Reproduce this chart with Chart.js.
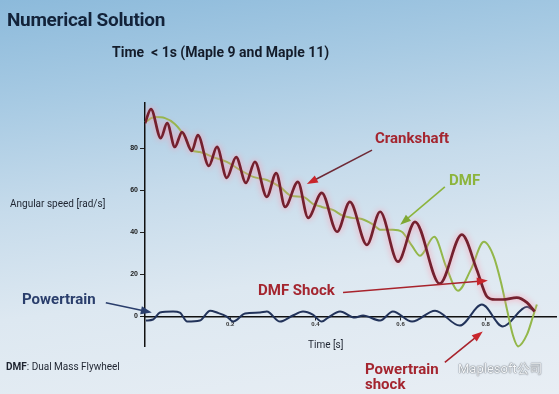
<!DOCTYPE html>
<html>
<head>
<meta charset="utf-8">
<script src="https://cdn.jsdelivr.net/npm/chart.js@4.4.1/dist/chart.umd.min.js"></script>
<style>
  html, body { margin: 0; padding: 0; }
  body {
    width: 559px; height: 394px; overflow: hidden; position: relative;
    background: linear-gradient(172deg, #8cbadb 0%, #a7cae3 22%, #c6dbeb 45%, #dde8f1 68%, #e8eef4 100%);
    font-family: Roboto, "DejaVu Sans", sans-serif;
  }
  #chart { position: absolute; left: 0; top: 0; }
  .txt { position: absolute; white-space: nowrap; line-height: 1; }
  .red { color: #a4252f; font-weight: bold; font-size: 15px; }
</style>
</head>
<body>
<canvas id="chart" width="559" height="394"></canvas>

<div class="txt" style="left:7px;top:10px;font-size:19px;font-weight:bold;color:#13233a;letter-spacing:-0.3px">Numerical Solution</div>
<div class="txt" style="left:112px;top:45px;font-size:14px;font-weight:bold;color:#141c2a">Time&nbsp; &lt; 1s (Maple 9 and Maple 11)</div>
<div class="txt" style="left:10px;top:199px;font-size:10px;color:#1e2430">Angular speed [rad/s]</div>
<div class="txt red" style="left:375px;top:131px">Crankshaft</div>
<div class="txt" style="left:449px;top:173px;font-size:15px;font-weight:bold;color:#8cb43c">DMF</div>
<div class="txt red" style="left:258px;top:283px">DMF Shock</div>
<div class="txt" style="left:22px;top:292px;font-size:15px;font-weight:bold;color:#2a3e6c">Powertrain</div>
<div class="txt" style="left:6px;top:362px;font-size:10px;color:#1e2430"><b>DMF</b>: Dual Mass Flywheel</div>
<div class="txt" style="left:308px;top:340px;font-size:10px;color:#1e2430">Time [s]</div>
<div class="txt red" style="left:365px;top:362px">Powertrain</div>
<div class="txt red" style="left:365px;top:377px">shock</div>
<div class="txt" style="left:458px;top:362px;font-size:13px;color:#f4f6f8;text-shadow:0 0 1.5px #5e666e, 0 0 1px #5e666e">Maplesoft公司</div>

<script>
// Crankshaft angular speed (rad/s) vs time (s)
var crankTime = [0, 0.014, 0.037, 0.052, 0.070, 0.087, 0.110, 0.124, 0.150, 0.169,
  0.192, 0.214, 0.237, 0.258, 0.286, 0.308, 0.329, 0.359, 0.383, 0.415,
  0.451, 0.481, 0.521, 0.552, 0.594, 0.634, 0.692, 0.744, 0.779, 0.803,
  0.822, 0.840, 0.873, 0.897, 0.915];
var crankSpeed = [91.9, 98.6, 84.8, 91.9, 80.6, 87.7, 78.7, 86.3, 71.6, 80.6,
  65.9, 75.8, 63.5, 73.5, 56.9, 68.2, 52.1, 64.0, 46.9, 58.8,
  40.3, 54.5, 34.1, 49.8, 26.1, 45.0, 15.6, 38.9, 22.3, 9.5,
  8.1, 8.1, 9.0, 6.6, 2.4];

// DMF (dual mass flywheel)
var dmfTime = [0, 0.023, 0.047, 0.070, 0.094, 0.110, 0.129, 0.160, 0.192, 0.223,
  0.254, 0.286, 0.317, 0.345, 0.371, 0.394, 0.415, 0.441, 0.465, 0.486,
  0.509, 0.533, 0.554, 0.582, 0.603, 0.627, 0.646, 0.679, 0.707, 0.735,
  0.765, 0.796, 0.819, 0.836, 0.850, 0.864, 0.876, 0.897, 0.911, 0.920];
var dmfSpeed = [92.4, 94.8, 94.3, 91.5, 85.3, 79.1, 78.2, 75.8, 73.5, 69.7,
  66.4, 64.9, 61.6, 57.3, 56.9, 53.6, 52.1, 50.7, 47.9, 46.9,
  46.4, 44.1, 41.2, 41.2, 40.3, 33.6, 28.9, 37.9, 23.7, 12.3,
  22.3, 35.5, 28.4, 16.1, 3.3, -9.0, -14.2, -8.5, 0.0, 5.7];

// Powertrain
var ptTime = [0.002, 0.019, 0.035, 0.066, 0.082, 0.099, 0.129, 0.153, 0.169, 0.192,
  0.207, 0.235, 0.270, 0.286, 0.317, 0.347, 0.371, 0.394, 0.415, 0.430,
  0.458, 0.493, 0.512, 0.552, 0.582, 0.627, 0.681, 0.739, 0.791, 0.840,
  0.897, 0.915];
var ptSpeed = [-1.9, -1.4, 1.9, 2.4, 1.9, -2.4, -1.9, 2.8, 1.9, 0.0,
  -2.4, 1.4, 1.9, 2.4, -2.4, 0.5, 2.4, 0.9, -2.4, -0.5,
  2.4, -0.5, 0.5, -1.9, 2.4, -2.4, 2.8, -4.3, 5.7, -4.7,
  4.7, 2.4];

var xTickValues = [0.2, 0.4, 0.6, 0.8];
var yTickValues = [0, 20, 40, 60, 80];

// annotation arrows: [fromTime, fromSpeed, toTime, toSpeed, line colour, head colour]
var arrows = [
  [0.533, 79.1, 0.380, 63.0, '#6e2a36', '#c8262c'],
  [0.704, 61.6, 0.599, 43.6, '#8cb43c', '#7fa834'],
  [0.465, 11.4, 0.805, 17.1, '#a8232c', '#c8262c'],
  [-0.092, 6.6, 0.016, 1.9, '#2a3e6c', '#2a3e6c'],
  [0.704, -21.8, 0.793, -7.1, '#a8232c', '#c8262c']
];

function toPoints(xs, ys) {
  return xs.map(function (x, i) { return { x: x, y: ys[i] }; });
}

var arrowPlugin = {
  id: 'arrows',
  beforeDatasetDraw: function (chart, args) {
    if (args.index === 0) {
      chart.ctx.save();
      chart.ctx.shadowColor = 'rgba(255,150,170,1)';
      chart.ctx.shadowBlur = 6;
    }
  },
  afterDatasetDraw: function (chart, args) {
    if (args.index === 0) chart.ctx.restore();
  },
  afterDraw: function (chart) {
    var ctx = chart.ctx, xs = chart.scales.x, ys = chart.scales.y;
    arrows.forEach(function (a) {
      var x1 = xs.getPixelForValue(a[0]), y1 = ys.getPixelForValue(a[1]);
      var x2 = xs.getPixelForValue(a[2]), y2 = ys.getPixelForValue(a[3]);
      var ang = Math.atan2(y2 - y1, x2 - x1);
      ctx.save();
      ctx.strokeStyle = a[4];
      ctx.lineWidth = 1.6;
      ctx.beginPath();
      ctx.moveTo(x1, y1);
      ctx.lineTo(x2 - 6 * Math.cos(ang), y2 - 6 * Math.sin(ang));
      ctx.stroke();
      ctx.fillStyle = a[5];
      ctx.translate(x2, y2);
      ctx.rotate(ang);
      ctx.beginPath();
      ctx.moveTo(0, 0);
      ctx.lineTo(-11, -4);
      ctx.lineTo(-11, 4);
      ctx.closePath();
      ctx.fill();
      ctx.restore();
    });
  }
};

var ctx = document.getElementById('chart').getContext('2d');
var chart = new Chart(ctx, {
  type: 'line',
  data: {
    datasets: [{
      label: 'Crankshaft',
      data: toPoints(crankTime, crankSpeed),
      borderColor: '#74202e',
      borderWidth: 2.7,
      cubicInterpolationMode: 'monotone',
      pointRadius: 0,
      order: 0
    }, {
      label: 'DMF',
      data: toPoints(dmfTime, dmfSpeed),
      borderColor: '#93b74a',
      borderWidth: 2,
      cubicInterpolationMode: 'monotone',
      pointRadius: 0,
      clip: false,
      order: 1
    }, {
      label: 'Powertrain',
      data: toPoints(ptTime, ptSpeed),
      borderColor: '#22335a',
      borderWidth: 2,
      cubicInterpolationMode: 'monotone',
      pointRadius: 0,
      order: 2
    }]
  },
  options: {
    responsive: false,
    animation: false,
    layout: { padding: { left: 117, top: 103, right: 3, bottom: 48 } },
    plugins: { legend: { display: false }, tooltip: { enabled: false } },
    scales: {
      x: {
        type: 'linear',
        min: 0,
        max: 0.965,
        position: { y: 0 },
        afterBuildTicks: function (s) { s.ticks = xTickValues.map(function (v) { return { value: v }; }); },
        border: { display: true, color: '#111', width: 1.5 },
        grid: { display: true, drawOnChartArea: false, tickLength: 3, color: '#222' },
        ticks: { padding: 1, color: '#333', font: { size: 6, weight: 'bold' }, maxRotation: 0 }
      },
      y: {
        min: -14,
        max: 101.5,
        afterBuildTicks: function (s) { s.ticks = yTickValues.map(function (v) { return { value: v }; }); },
        afterFit: function (s) { s.width = 28; },
        border: { display: true, color: '#111', width: 1.5 },
        grid: { display: true, drawOnChartArea: false, tickLength: 5, color: '#222' },
        ticks: { padding: 2, color: '#1a1a1a', font: { size: 7, weight: 'bold' } }
      }
    }
  },
  plugins: [arrowPlugin]
});
</script>
</body>
</html>
